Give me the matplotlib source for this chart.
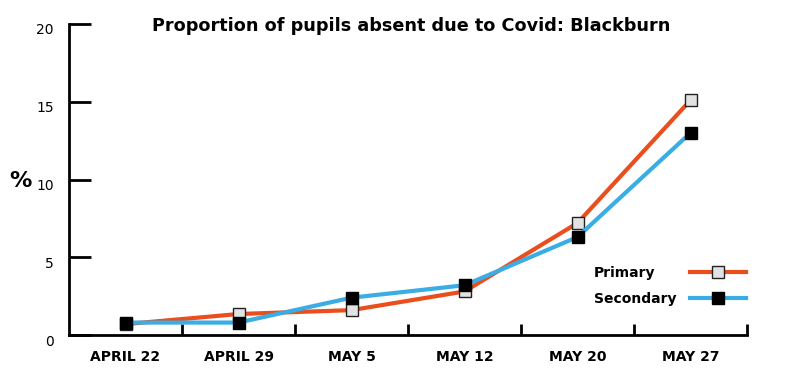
import matplotlib.pyplot as plt
from matplotlib.ticker import FixedLocator, NullFormatter
import matplotlib.transforms as mtransforms

# 数据
dates = ["APRIL 22", "APRIL 29", "MAY 5", "MAY 12", "MAY 20", "MAY 27"]
primary = [0.7, 1.35, 1.6, 2.8, 7.2, 15.1]
secondary = [0.8, 0.8, 2.4, 3.2, 6.3, 13.0]
y_ticks = [0, 5, 10, 15, 20]

plt.rcParams["font.family"] = ["DejaVu Sans"]
plt.rcParams["font.weight"] = "bold"

fig = plt.figure(figsize=(8, 3.75), dpi=100)
ax = fig.add_axes([69 / 800, 1 - 335 / 375, 678 / 800, 311 / 375])

x = list(range(len(dates)))

ax.plot(x, primary, color="#EA4E1C", lw=3, marker="s", markersize=8.5,
        markerfacecolor="#E2E2E2", markeredgecolor="#222222", markeredgewidth=1,
        label="Primary", zorder=3)
ax.plot(x, secondary, color="#3AADE4", lw=3, marker="s", markersize=8.5,
        markerfacecolor="black", markeredgecolor="black", markeredgewidth=1,
        label="Secondary", zorder=4)

ax.set_xlim(-0.5, 5.5)
ax.set_ylim(0, 20)

# 坐标轴
for side in ["top", "right"]:
    ax.spines[side].set_visible(False)
for side in ["left", "bottom"]:
    ax.spines[side].set_linewidth(2)
    ax.spines[side].set_color("black")

ax.set_yticks(y_ticks)
ax.tick_params(axis="y", direction="in", length=16, width=2, pad=11, labelsize=10)
for lab in ax.get_yticklabels():
    lab.set_fontweight("normal")
    lab.set_transform(lab.get_transform() + mtransforms.ScaledTranslation(0, -5 / 100, fig.dpi_scale_trans))

ax.set_xticks(x)
ax.set_xticklabels(dates, fontsize=10, fontweight="bold")
ax.tick_params(axis="x", which="major", length=0, pad=11)
ax.xaxis.set_minor_locator(FixedLocator([i + 0.5 for i in x]))
ax.xaxis.set_minor_formatter(NullFormatter())
ax.tick_params(axis="x", which="minor", direction="in", length=8, width=2)

fig.text(20 / 800, 1 - 181 / 375, "%", fontsize=16, fontweight="bold",
         ha="center", va="center")
fig.text(411 / 800, 1 - 26 / 375, "Proportion of pupils absent due to Covid: Blackburn",
         fontsize=12.7, fontweight="bold", ha="center", va="center")

leg = ax.legend(loc="lower right", bbox_to_anchor=(1.006, 0.075), frameon=False,
                markerfirst=False, handlelength=4, handletextpad=1.0,
                labelspacing=0.9, borderaxespad=0, prop={"weight": "bold", "size": 10})

# 图例文字左对齐
fig.canvas.draw()
renderer = fig.canvas.get_renderer()
texts = leg.get_texts()
widths = [t.get_window_extent(renderer).width for t in texts]
for t, w in zip(texts, widths):
    t.set_x(t.get_position()[0] - (max(widths) - w))

plt.savefig("out.png", dpi=100)
plt.close()
